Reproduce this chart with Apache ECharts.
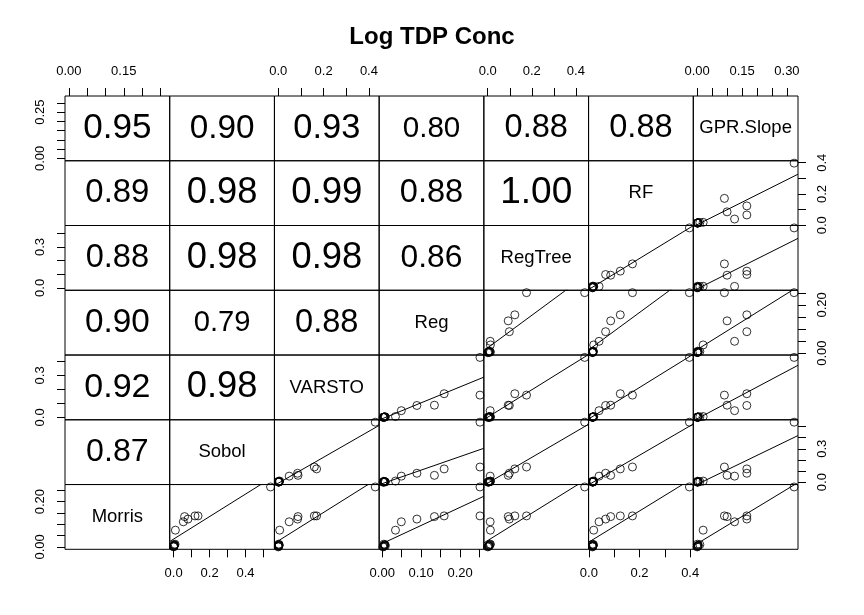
<!DOCTYPE html>
<html>
<head>
<meta charset="utf-8">
<title>Log TDP Conc</title>
<script src="https://cdn.jsdelivr.net/npm/echarts@6/dist/echarts.min.js"></script>
<style>
  html, body { margin: 0; padding: 0; background: #fff; }
  #main { width: 864px; height: 615px; }
</style>
</head>
<body>
<div id="main"></div>
<script>
// variable names, diagonal from bottom-left to top-right
let names = ['Morris', 'Sobol', 'VARSTO', 'Reg', 'RegTree', 'RF', 'GPR.Slope'];

// sensitivity values, one entry per parameter
let morris   = [0.265, 0.137, 0.134, 0.111, 0.137, 0.123, 0.074, 0.000, 0.002, 0.004, 0.006, 0.008, 0.010, 0.012, 0.005];
let sobol    = [0.539, 0.136, 0.061, 0.054, 0.119, 0.080, 0.010, 0.000, 0.001, 0.002, 0.003, 0.005, 0.004, 0.008, 0.002];
let varsto   = [0.428, 0.159, 0.087, 0.048, 0.169, 0.085, 0.006, 0.000, 0.001, 0.002, 0.002, 0.003, 0.004, 0.001, 0.003];
let reg      = [0.251, 0.251, 0.134, 0.049, 0.159, 0.089, 0.034, 0.002, 0.003, 0.004, 0.005, 0.006, 0.007, 0.004, 0.008];
let regTree  = [0.440, 0.176, 0.093, 0.011, 0.123, 0.098, 0.012, 0.000, 0.003, 0.004, 0.006, 0.008, 0.010, 0.012, 0.005];
let rf       = [0.397, 0.172, 0.086, 0.040, 0.124, 0.066, 0.019, 0.014, 0.015, 0.015, 0.016, 0.017, 0.018, 0.014, 0.016];
let gprSlope = [0.324, 0.091, 0.100, 0.125, 0.166, 0.166, 0.020, 0.000, 0.001, 0.002, 0.003, 0.004, 0.009, 0.001, 0.002];

// correlations printed in the upper-left panels (row variable vs Morris, Sobol, ...)
let corSobol   = [0.87];
let corVarsto  = [0.92, 0.98];
let corReg     = [0.90, 0.79, 0.88];
let corRegTree = [0.88, 0.98, 0.98, 0.86];
let corRF      = [0.89, 0.98, 0.99, 0.88, 1.00];
let corGPR     = [0.95, 0.90, 0.93, 0.80, 0.88, 0.88];

// tick positions per variable
let ticksMorris  = [0, 0.05, 0.10, 0.15, 0.20, 0.25];
let ticksSobol   = [0, 0.1, 0.2, 0.3, 0.4, 0.5];
let ticksVarsto  = [0, 0.1, 0.2, 0.3, 0.4];
let ticksReg     = [0, 0.05, 0.10, 0.15, 0.20, 0.25];
let ticksRegTree = [0, 0.1, 0.2, 0.3, 0.4];
let ticksRF      = [0, 0.1, 0.2, 0.3, 0.4];
let ticksGPR     = [0, 0.05, 0.10, 0.15, 0.20, 0.25, 0.30];

// tick labels that are printed on each outer side
let topLabels    = {0: [0, 0.15], 2: [0, 0.2, 0.4], 4: [0, 0.2, 0.4], 6: [0, 0.15, 0.30]};
let bottomLabels = {1: [0, 0.2, 0.4], 3: [0, 0.10, 0.20], 5: [0, 0.2, 0.4]};
let leftLabels   = {0: [0, 0.20], 2: [0, 0.3], 4: [0, 0.3], 6: [0, 0.25]};
let rightLabels  = {1: [0, 0.3], 3: [0, 0.20], 5: [0, 0.2, 0.4]};
let decimals     = [2, 1, 1, 2, 1, 1, 2];

let vars = [morris, sobol, varsto, reg, regTree, rf, gprSlope];
let ticks = [ticksMorris, ticksSobol, ticksVarsto, ticksReg, ticksRegTree, ticksRF, ticksGPR];
let cors = [[], corSobol, corVarsto, corReg, corRegTree, corRF, corGPR];

let font = "'Liberation Sans', Arial, Helvetica, sans-serif";
let left0 = 65, top0 = 96, cellW = (798 - 65) / 7, cellH = (549.3 - 96) / 7;

// R pairs style range: data range stretched by 4% on each side
function range(a) {
  let lo = Math.min.apply(null, a), hi = Math.max.apply(null, a), d = hi - lo;
  return [lo - 0.04 * d, hi + 0.04 * d];
}
// least squares line y = a + b x
function fit(x, y) {
  let n = x.length, mx = 0, my = 0, sxx = 0, sxy = 0;
  for (let i = 0; i < n; i++) { mx += x[i] / n; my += y[i] / n; }
  for (let i = 0; i < n; i++) {
    sxx += (x[i] - mx) * (x[i] - mx);
    sxy += (x[i] - mx) * (y[i] - my);
  }
  let b = sxy / sxx;
  return [my - b * mx, b];
}

function makeAxis(dim, gi, v, side, labels) {
  let r = range(vars[v]);
  let on = side != null;
  let ax = {
    type: 'value', gridIndex: gi, min: r[0], max: r[1],
    splitLine: {show: false},
    axisLine: {show: false, onZero: false},
    axisTick: {show: on, inside: false, length: 8, customValues: ticks[v], lineStyle: {color: '#000', width: 1}},
    axisLabel: {
      show: on, customValues: labels || [], margin: 18, fontSize: 13, color: '#000', fontFamily: font,
      rotate: dim == 'y' ? 90 : 0,
      formatter: function (val) { return Number(val).toFixed(decimals[v]); }
    }
  };
  if (on) ax.position = side;
  return ax;
}

let grids = [], xAxes = [], yAxes = [], series = [], graphics = [];

for (let row = 0; row < 7; row++) {
  let v = 6 - row; // variable of this row
  for (let c = 0; c < 7; c++) {
    let gi = row * 7 + c;
    let gx = left0 + c * cellW, gy = top0 + row * cellH;
    grids.push({
      left: gx, top: gy, width: cellW, height: cellH,
      show: true, borderColor: '#000', borderWidth: 1, backgroundColor: 'transparent',
      outerBoundsMode: 'none'
    });
    let xs = null, xl = null, ys = null, yl = null;
    if (row == 0 && topLabels[c]) { xs = 'top'; xl = topLabels[c]; }
    if (row == 6 && bottomLabels[c]) { xs = 'bottom'; xl = bottomLabels[c]; }
    if (c == 0 && leftLabels[v]) { ys = 'left'; yl = leftLabels[v]; }
    if (c == 6 && rightLabels[v]) { ys = 'right'; yl = rightLabels[v]; }
    xAxes.push(makeAxis('x', gi, c, xs, xl));
    yAxes.push(makeAxis('y', gi, v, ys, yl));

    let cx = gx + cellW / 2, cy = gy + cellH / 2;
    if (c == v) {
      graphics.push({type: 'text', x: cx, y: cy, style: {
        text: names[v], font: '18.5px ' + font, fill: '#000', textAlign: 'center', textVerticalAlign: 'middle'}});
    } else if (c < v) {
      let r = cors[v][c];
      graphics.push({type: 'text', x: cx, y: cy, style: {
        text: r.toFixed(2), font: (37 * r).toFixed(1) + 'px ' + font, fill: '#000',
        textAlign: 'center', textVerticalAlign: 'middle'}});
    } else {
      let xd = vars[c], yd = vars[v];
      let pts = xd.map(function (x, i) { return [x, yd[i]]; });
      series.push({
        type: 'scatter', xAxisIndex: gi, yAxisIndex: gi, data: pts,
        symbol: 'circle', symbolSize: 8, silent: true,
        itemStyle: {color: 'rgba(0,0,0,0)', borderColor: '#000', borderWidth: 1}
      });
      let ab = fit(xd, yd), xr = range(xd);
      series.push({
        type: 'line', xAxisIndex: gi, yAxisIndex: gi, clip: true, silent: true,
        showSymbol: false, symbol: 'none',
        data: [[xr[0], ab[0] + ab[1] * xr[0]], [xr[1], ab[0] + ab[1] * xr[1]]],
        lineStyle: {color: '#000', width: 1}
      });
    }
  }
}

graphics.push({type: 'text', x: 432, y: 37, style: {
  text: 'Log TDP Conc', font: 'bold 24px ' + font, fill: '#000', textAlign: 'center', textVerticalAlign: 'middle'}});

let myChart = echarts.init(document.getElementById('main'), null, {renderer: 'canvas'});
myChart.setOption({
  animation: false,
  backgroundColor: '#fff',
  grid: grids,
  xAxis: xAxes,
  yAxis: yAxes,
  series: series,
  graphic: graphics
});
</script>
</body>
</html>
